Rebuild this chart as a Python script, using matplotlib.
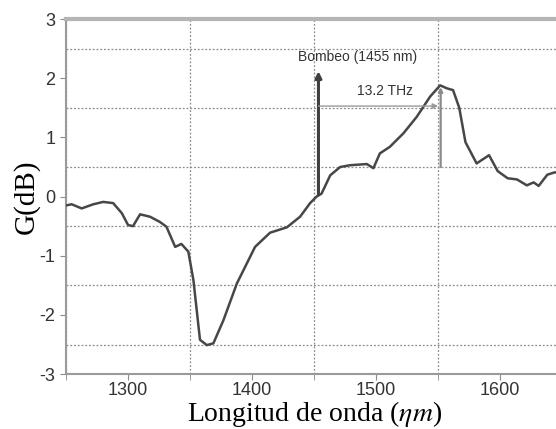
import matplotlib
matplotlib.use("Agg")
import matplotlib.pyplot as plt
from matplotlib.ticker import MultipleLocator

# gain curve
wl = [1250, 1254.6, 1262.6, 1272, 1280, 1288, 1295, 1300, 1304, 1309.7, 1317.7,
      1325.8, 1331, 1338, 1343, 1348.6, 1352.7, 1358, 1363.5, 1368.8, 1376.9,
      1387.7, 1402.4, 1414.5, 1428, 1438.7, 1446.8, 1452, 1456, 1463, 1471,
      1479, 1492.5, 1497.8, 1503, 1511, 1522, 1532.8, 1543.5, 1551.6, 1557,
      1562, 1567, 1572, 1581, 1591, 1598, 1606, 1613.5, 1621.5, 1627, 1631,
      1638, 1644, 1650]
gain = [-0.15, -0.13, -0.2, -0.13, -0.09, -0.11, -0.28, -0.48, -0.5, -0.3, -0.34,
        -0.43, -0.51, -0.85, -0.8, -0.93, -1.41, -2.42, -2.51, -2.48, -2.09,
        -1.47, -0.85, -0.61, -0.52, -0.34, -0.11, 0.0, 0.05, 0.36, 0.5,
        0.53, 0.55, 0.48, 0.73, 0.84, 1.07, 1.35, 1.69, 1.88, 1.83,
        1.8, 1.5, 0.92, 0.56, 0.7, 0.43, 0.31, 0.29, 0.19, 0.24, 0.18,
        0.37, 0.41, 0.39]

pump_wl = 1453.5
peak_wl = 1552
pump_label = "Bombeo (1455 nm)"
shift_label = "13.2 THz"

plt.rcParams['mathtext.fontset'] = 'stix'
plt.rcParams['axes.unicode_minus'] = False

fig = plt.figure(figsize=(5.56, 4.29), dpi=100)
ax = fig.add_axes([0.1187, 0.128, 0.8925, 0.8275])

ax.plot(wl, gain, color="#474747", lw=1.8, zorder=3)

# pump arrow
ax.annotate("", xy=(pump_wl, 2.12), xytext=(pump_wl, 0.03),
            arrowprops=dict(arrowstyle="-|>", color="#404040", lw=2.2,
                            mutation_scale=9, shrinkA=0, shrinkB=0), zorder=4)
ax.text(1485, 2.36, pump_label, fontsize=10, ha="center", va="center",
        color="#333333", family="Liberation Sans")

# shift arrow
ax.annotate("", xy=(peak_wl - 2, 1.53), xytext=(pump_wl, 1.53),
            arrowprops=dict(arrowstyle="-|>", color="#9a9a9a", lw=1.0,
                            mutation_scale=8, shrinkA=0, shrinkB=0), zorder=4)
ax.text(1507, 1.78, shift_label, fontsize=10, ha="center", va="center",
        color="#333333", family="Liberation Sans")
ax.annotate("", xy=(peak_wl, 1.85), xytext=(peak_wl, 0.5),
            arrowprops=dict(arrowstyle="-|>", color="#8a8a8a", lw=1.6,
                            mutation_scale=6, shrinkA=0, shrinkB=0), zorder=4)

ax.set_xlim(1250, 1650)
ax.set_ylim(-3, 3)
ax.xaxis.set_major_locator(MultipleLocator(100))
ax.xaxis.set_minor_locator(MultipleLocator(50))
ax.yaxis.set_major_locator(MultipleLocator(1))
ax.yaxis.set_minor_locator(MultipleLocator(0.5))

ax.grid(which="minor", color="#8c8c8c", ls=(0, (1.5, 1.5)), lw=0.9)
ax.grid(which="major", visible=False)
ax.tick_params(which="both", direction="out", length=4, color="#8c8c8c",
               labelsize=13, labelcolor="#333333")
ax.tick_params(axis="x", pad=2)
ax.tick_params(axis="y", which="minor", length=0)
for lab in ax.get_xticklabels() + ax.get_yticklabels():
    lab.set_family("Liberation Sans")

for s in ["left", "bottom"]:
    ax.spines[s].set_color("#9a9a9a")
    ax.spines[s].set_linewidth(1.5)
ax.spines["top"].set_color("#b5b5b5")
ax.spines["top"].set_linewidth(3)
ax.spines["right"].set_visible(False)

ax.set_xlabel("Longitud de onda ($\\mathit{\\eta m}$)", fontsize=20,
              family="Liberation Serif", labelpad=0)
ax.set_ylabel("G(dB)", fontsize=21, family="Liberation Serif", labelpad=0)

fig.savefig("out.png", dpi=100)
